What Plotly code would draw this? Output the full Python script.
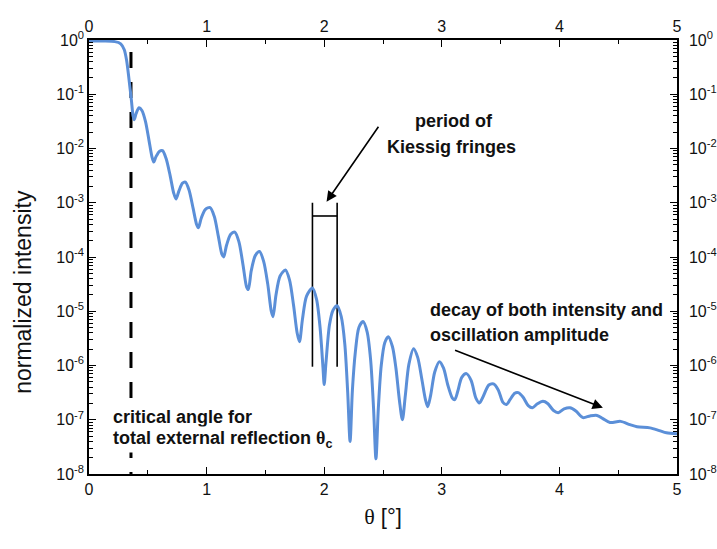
import plotly.graph_objects as go

# ---- data ----
theta = [0.00, 0.12, 0.22, 0.27, 0.30, 0.32, 0.34, 0.36, 0.375, 0.385, 0.40, 0.425, 0.45, 0.48, 0.51,
         0.535, 0.55, 0.57, 0.60, 0.625, 0.655, 0.69, 0.72, 0.74, 0.765, 0.795, 0.82, 0.85, 0.885,
         0.915, 0.93, 0.955, 0.99, 1.03, 1.065, 1.10, 1.13, 1.145, 1.17, 1.205, 1.24, 1.275, 1.31,
         1.34, 1.355, 1.38, 1.415, 1.45, 1.485, 1.52, 1.55, 1.565, 1.59, 1.625, 1.67, 1.705, 1.74,
         1.77, 1.79, 1.815, 1.85, 1.90, 1.935, 1.965, 1.99, 2.00, 2.015, 2.045, 2.075, 2.11, 2.145,
         2.175, 2.20, 2.22, 2.24, 2.265, 2.295, 2.33, 2.365, 2.395, 2.42, 2.44, 2.46, 2.485, 2.515,
         2.545, 2.58, 2.61, 2.64, 2.665, 2.69, 2.72, 2.76, 2.795, 2.83, 2.86, 2.88, 2.905, 2.94,
         2.98, 3.015, 3.05, 3.09, 3.11, 3.135, 3.17, 3.21, 3.25, 3.29, 3.32, 3.35, 3.40, 3.44, 3.48,
         3.52, 3.55, 3.58, 3.62, 3.65, 3.69, 3.735, 3.77, 3.81, 3.86, 3.90, 3.95, 3.99, 4.04, 4.09,
         4.14, 4.20, 4.26, 4.32, 4.37, 4.43, 4.52, 4.60, 4.66, 4.77, 4.85, 4.91, 5.00]
log_intensity = [-0.02, -0.02, -0.03, -0.07, -0.18, -0.38, -0.72, -1.10, -1.40, -1.47, -1.36, -1.25,
                 -1.30, -1.50, -1.85, -2.15, -2.25, -2.15, -2.05, -2.04, -2.18, -2.50, -2.82, -2.93,
                 -2.78, -2.64, -2.62, -2.76, -3.10, -3.40, -3.46, -3.28, -3.12, -3.09, -3.25, -3.62,
                 -3.95, -4.00, -3.78, -3.58, -3.54, -3.72, -4.15, -4.55, -4.60, -4.25, -3.97, -3.90,
                 -4.08, -4.50, -5.00, -5.10, -4.70, -4.35, -4.24, -4.42, -4.90, -5.40, -5.56, -5.15,
                 -4.72, -4.57, -4.78, -5.30, -6.05, -6.35, -5.95, -5.25, -4.98, -4.90, -5.10, -5.60,
                 -6.50, -7.40, -6.45, -5.75, -5.30, -5.19, -5.38, -5.90, -6.80, -7.72, -6.80, -6.00,
                 -5.58, -5.47, -5.65, -6.05, -6.65, -7.00, -6.55, -5.98, -5.69, -5.85, -6.25, -6.62,
                 -6.76, -6.55, -6.12, -5.93, -6.05, -6.35, -6.60, -6.63, -6.48, -6.22, -6.15, -6.28,
                 -6.60, -6.69, -6.58, -6.36, -6.34, -6.45, -6.68, -6.72, -6.63, -6.51, -6.50, -6.58,
                 -6.74, -6.78, -6.71, -6.66, -6.70, -6.83, -6.87, -6.80, -6.78, -6.84, -6.96, -6.93,
                 -6.92, -6.98, -7.05, -7.03, -7.09, -7.13, -7.15, -7.20, -7.24, -7.26]
intensity = [10 ** v for v in log_intensity]

x_ticks = [0, 1, 2, 3, 4, 5]
y_exponents = [0, -1, -2, -3, -4, -5, -6, -7, -8]
y_tickvals = [10.0 ** e for e in y_exponents]
y_ticktext = ["10<sup>%d</sup>" % e for e in y_exponents]

critical_angle = 0.357
fringe_max_left = 1.90
fringe_max_right = 2.11
bracket_top = 1.0e-3
bracket_bottom = 9.5e-7
bracket_bar = 5.7e-4

FONT = "Liberation Sans, Arial, sans-serif"
BLUE = "#5b8fd8"

fig = go.Figure()

# critical angle dashed line
fig.add_trace(go.Scatter(x=[critical_angle, critical_angle], y=[0.6, 1e-8], mode="lines",
                         line=dict(color="black", width=3, dash="16px,14px"),
                         hoverinfo="skip", showlegend=False))
# bracket for Kiessig period
fig.add_trace(go.Scatter(x=[fringe_max_left, fringe_max_left, None, fringe_max_right, fringe_max_right,
                            None, fringe_max_left, fringe_max_right],
                         y=[bracket_top, bracket_bottom, None, bracket_top, bracket_bottom, None,
                            bracket_bar, bracket_bar],
                         mode="lines", line=dict(color="black", width=1.6),
                         hoverinfo="skip", showlegend=False))
# reflectivity curve
fig.add_trace(go.Scatter(x=theta, y=intensity, mode="lines",
                         line=dict(color=BLUE, width=3, shape="spline", smoothing=0.8),
                         showlegend=False))
# dummy trace for the mirrored top/right axes
fig.add_trace(go.Scatter(x=[0, 5], y=[1, 1e-8], xaxis="x2", yaxis="y2", mode="markers",
                         marker=dict(opacity=0), hoverinfo="skip", showlegend=False))

axis_common = dict(showline=True, linecolor="black", linewidth=1.5, ticks="inside",
                   tickcolor="black", showgrid=False, zeroline=False, automargin=False,
                   tickfont=dict(family=FONT, size=16, color="#111"))

fig.update_layout(
    width=717, height=549,
    margin=dict(l=89, r=40, t=40, b=75),
    paper_bgcolor="white", plot_bgcolor="white",
    xaxis=dict(range=[0, 5], tickvals=x_ticks, ticklen=7,
               minor=dict(dtick=0.5, ticks="inside", ticklen=4, tickcolor="black"),
               title=dict(text="<span style='font-family:Liberation Serif'>θ</span> [°]",
                          font=dict(family=FONT, size=22, color="#111"), standoff=12),
               **axis_common),
    yaxis=dict(type="log", range=[-8, 0], tickvals=y_tickvals, ticktext=y_ticktext, ticklen=7,
               minor=dict(dtick="D1", ticks="inside", ticklen=4, tickcolor="black"),
               **axis_common),
    xaxis2=dict(range=[0, 5], overlaying="x", side="top", tickvals=x_ticks, ticklen=7,
                minor=dict(dtick=0.5, ticks="inside", ticklen=4, tickcolor="black"),
                **axis_common),
    yaxis2=dict(type="log", range=[-8, 0], overlaying="y", side="right", tickvals=y_tickvals,
                ticktext=y_ticktext, ticklen=7, ticklabelstandoff=7,
                minor=dict(dtick="D1", ticks="inside", ticklen=4, tickcolor="black"),
                **axis_common),
)

ann_font = dict(family=FONT, size=18, color="#111")
annotations = [
    dict(xref="paper", yref="paper", x=-0.112, y=0.42, text="normalized intensity", textangle=-90,
         showarrow=False, xanchor="center", yanchor="middle",
         font=dict(family=FONT, size=23, color="#111")),
    dict(x=3.10, y=-1.49, text="<b>period of</b>", showarrow=False, xanchor="center", yanchor="middle",
         font=ann_font),
    dict(x=3.08, y=-1.97, text="<b>Kiessig fringes</b>", showarrow=False, xanchor="center",
         yanchor="middle", font=ann_font),
    dict(x=2.02, y=-2.98, ax=2.47, ay=-1.57, axref="x", ayref="y", text="", showarrow=True,
         arrowhead=2, arrowsize=1.3, arrowwidth=1.6, arrowcolor="black"),
    dict(x=2.88, y=-4.97, text="<b>decay of both intensity and</b>", showarrow=False,
         xanchor="left", yanchor="middle", font=ann_font),
    dict(x=2.88, y=-5.43, text="<b>oscillation amplitude</b>", showarrow=False,
         xanchor="left", yanchor="middle", font=ann_font),
    dict(x=4.37, y=-6.78, ax=3.10, ay=-5.71, axref="x", ayref="y", text="", showarrow=True,
         arrowhead=2, arrowsize=1.3, arrowwidth=1.6, arrowcolor="black"),
    dict(x=0.19, y=-6.94, text="<b>critical angle for</b>", showarrow=False, xanchor="left",
         yanchor="middle", font=ann_font, bgcolor="white"),
    dict(x=0.19, y=-7.36,
         text="<b>total external reflection <span style='font-family:Liberation Serif'>θ</span><sub>c</sub></b>",
         showarrow=False, xanchor="left", yanchor="middle", font=ann_font, bgcolor="white"),
]
fig.update_layout(annotations=annotations)

fig.write_html("out.html")
